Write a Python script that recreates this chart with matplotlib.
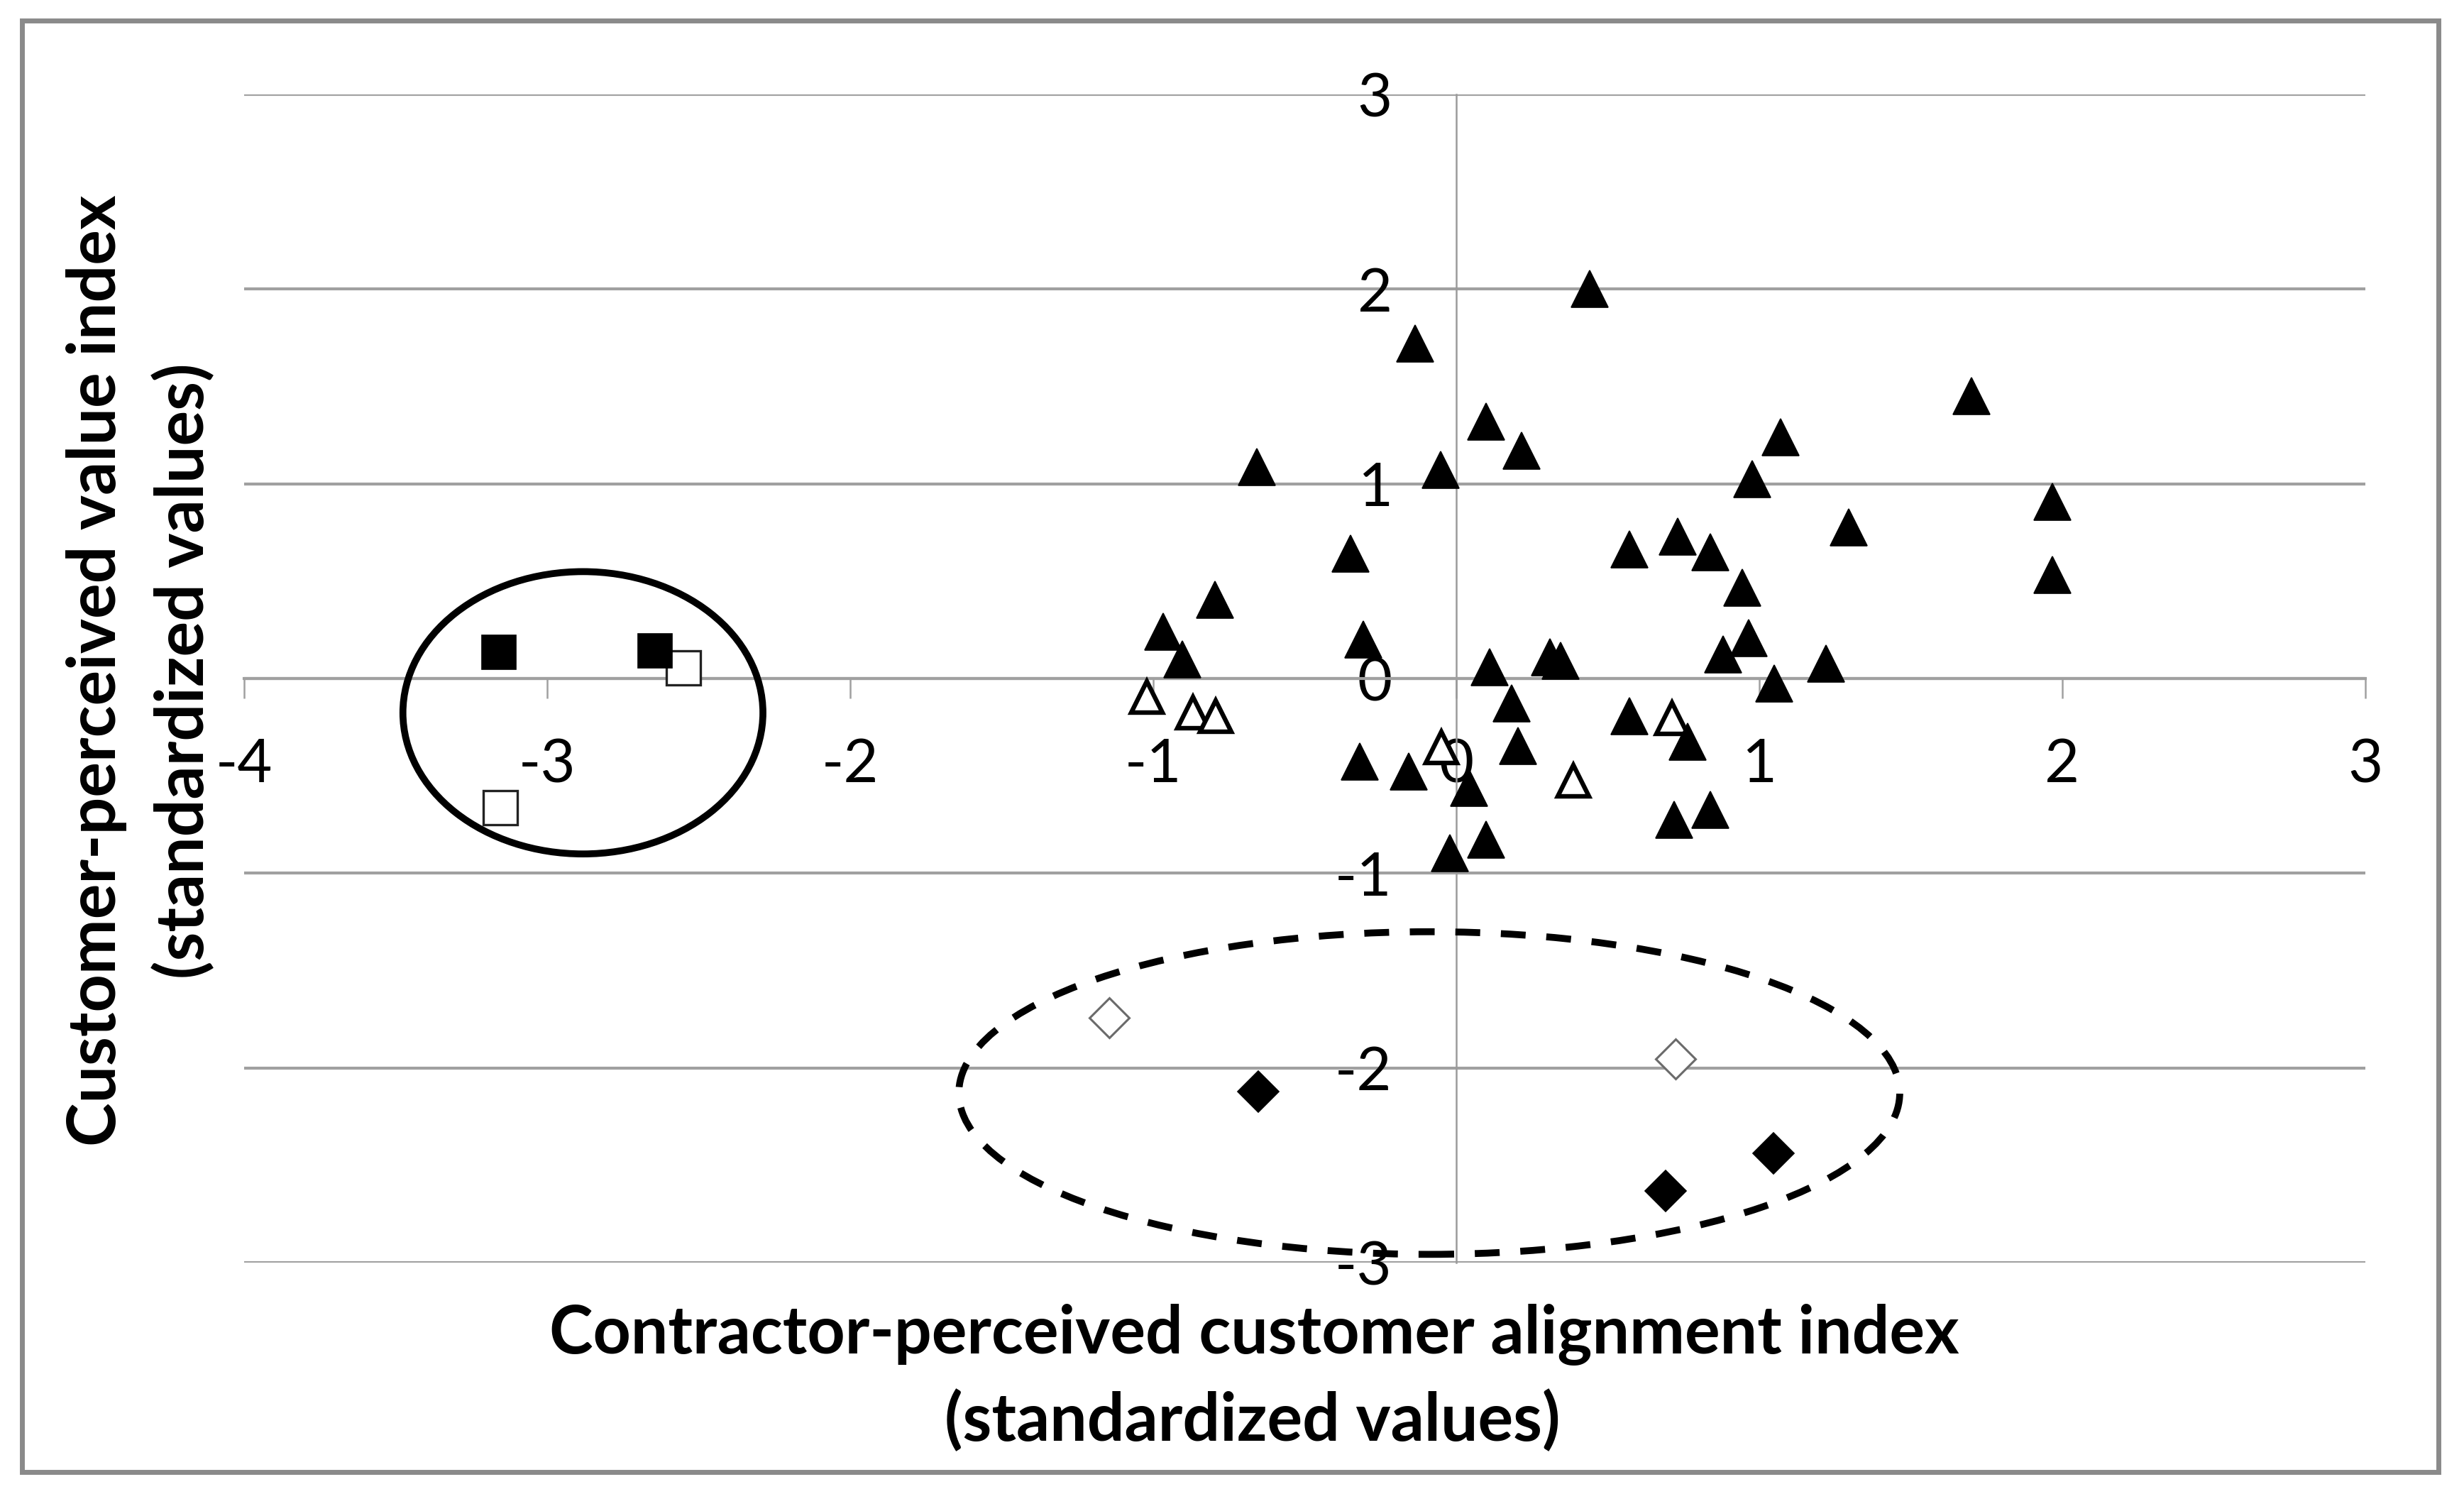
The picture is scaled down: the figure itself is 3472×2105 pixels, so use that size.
import matplotlib
matplotlib.use("Agg")
import matplotlib.pyplot as plt
from matplotlib.patches import Ellipse, Rectangle

# ---------------- data ----------------
tri_filled_x = [0.44, -0.136, 0.098, 0.215, -0.657, -0.051, 1.70, 1.07, 0.976,
                1.967, 1.296, 0.572, 0.731, 0.838, 1.967, 0.944, -0.349, -0.797,
                -0.968, -0.904, -0.307, 0.966, 0.88, 1.22, 1.05, 0.11, 0.31,
                0.344, 0.183, 0.572, 0.763, 0.203, -0.318, -0.158, 0.042,
                0.719, 0.838, 0.098, -0.02]
tri_filled_y = [2.0, 1.72, 1.32, 1.17, 1.086, 1.07, 1.45, 1.24, 1.024,
                0.909, 0.778, 0.663, 0.73, 0.648, 0.531, 0.466, 0.64, 0.406,
                0.24, 0.10, 0.20, 0.207, 0.124, 0.075, -0.024, 0.058, 0.11,
                0.09, -0.126, -0.192, -0.324, -0.346, -0.425, -0.477, -0.56,
                -0.727, -0.676, -0.826, -0.896]

tri_open_x = [-1.02, -0.87, -0.795, -0.05, 0.386, 0.711]
tri_open_y = [-0.093, -0.175, -0.193, -0.355, -0.526, -0.205]

sq_filled_x = [-3.159, -2.643]
sq_filled_y = [0.135, 0.141]
sq_open_x = [-2.55, -3.155]
sq_open_y = [0.056, -0.662]

dia_filled_x = [-0.653, 1.046, 0.69]
dia_filled_y = [-2.12, -2.44, -2.633]
dia_open_x = [-1.146, 0.724]
dia_open_y = [-1.741, -1.954]

x_ticks = [-4, -3, -2, -1, 0, 1, 2, 3]
y_ticks = [-3, -2, -1, 0, 1, 2, 3]

x_title = ["Contractor-perceived customer alignment index", "(standardized values)"]
y_title = ["Customer-perceived value index", "(standardized values)"]

# group outlines (center x, center y, width, height) in data units
solid_group = (-2.882, -0.176, 1.188, 1.45)
dashed_group = (-0.089, -2.129, 3.105, 1.657)

# ---------------- figure ----------------
W, H = 3473, 2105
DPI = 100
fig = plt.figure(figsize=(W / DPI, H / DPI), dpi=DPI)
fig.patch.set_facecolor("white")

ax_l, ax_r, ax_t, ax_b = 344, 3333, 133, 1779
ax = fig.add_axes([ax_l / W, 1 - ax_b / H, (ax_r - ax_l) / W, (ax_b - ax_t) / H])
ax.set_xlim(-4, 3)
ax.set_ylim(-3, 3)

grid_c = "#a0a0a0"
for s in ["top", "right"]:
    ax.spines[s].set_visible(False)
ax.spines["left"].set_position(("data", 0))
ax.spines["bottom"].set_position(("data", 0))
ax.spines["left"].set_color("#9a9a9a")
ax.spines["left"].set_linewidth(1.8)
ax.spines["bottom"].set_color(grid_c)
ax.spines["bottom"].set_linewidth(3)

ax.set_xticks(x_ticks)
ax.set_yticks(y_ticks)
ax.set_xticklabels([str(v) for v in x_ticks])
ax.set_yticklabels([str(v) for v in y_ticks])
ax.yaxis.grid(True, color=grid_c, linewidth=3)
ax.set_axisbelow(True)

ax.tick_params(axis="x", direction="out", length=20, width=1.8, color=grid_c,
               pad=40, labelsize=61)
ax.tick_params(axis="y", length=0, pad=65, labelsize=61)
for lab in ax.get_xticklabels() + ax.get_yticklabels():
    lab.set_fontfamily("Lato")
    lab.set_color("black")

# ---------------- markers ----------------
ax.plot(tri_open_x, tri_open_y, linestyle="none", marker="^", ms=31,
        mfc="white", mec="black", mew=4.6, zorder=3)
ax.plot(sq_open_x, sq_open_y, linestyle="none", marker="s", ms=34,
        mfc="white", mec="#222222", mew=2.4, zorder=3)
ax.plot(dia_open_x, dia_open_y, linestyle="none", marker="D", ms=29,
        mfc="white", mec="#6a6a6a", mew=2.2, zorder=3)

ax.plot(tri_filled_x, tri_filled_y, linestyle="none", marker="^", ms=37,
        mfc="black", mec="black", mew=1.2, zorder=3.2)
ax.plot(sq_filled_x, sq_filled_y, linestyle="none", marker="s", ms=35,
        mfc="black", mec="black", mew=1.2, zorder=3.2)
ax.plot(dia_filled_x, dia_filled_y, linestyle="none", marker="D", ms=29.5,
        mfc="black", mec="black", mew=1.2, zorder=3.2)

# ---------------- group outlines ----------------
cx, cy, w, h = solid_group
ax.add_patch(Ellipse((cx, cy), w, h, fill=False, edgecolor="black",
                     linewidth=7, zorder=4, clip_on=False))
cx, cy, w, h = dashed_group
ax.add_patch(Ellipse((cx, cy), w, h, fill=False, edgecolor="black",
                     linewidth=7, linestyle=(0, (3.6, 3.0)), zorder=4, clip_on=False))

# ---------------- axis titles ----------------
title_kw = dict(family="Lato", weight="bold", size=67, color="black")
fig.text(1767 / W, 1 - 1907 / H, x_title[0], ha="center", va="baseline", **title_kw)
fig.text(1765 / W, 1 - 2030 / H, x_title[1], ha="center", va="baseline", **title_kw)
fig.text(163 / W, 1 - 945 / H, y_title[0], ha="center", va="baseline",
         rotation=90, rotation_mode="anchor", **title_kw)
fig.text(287 / W, 1 - 945 / H, y_title[1], ha="center", va="baseline",
         rotation=90, rotation_mode="anchor", **title_kw)

# ---------------- chart border ----------------
fig.patches.append(Rectangle((31 / W, 1 - 2074 / H), (3436 - 31) / W, (2074 - 29) / H,
                             transform=fig.transFigure, fill=False,
                             edgecolor="#8a8a8a", linewidth=5))

fig.savefig("out.png", dpi=DPI, facecolor="white")
